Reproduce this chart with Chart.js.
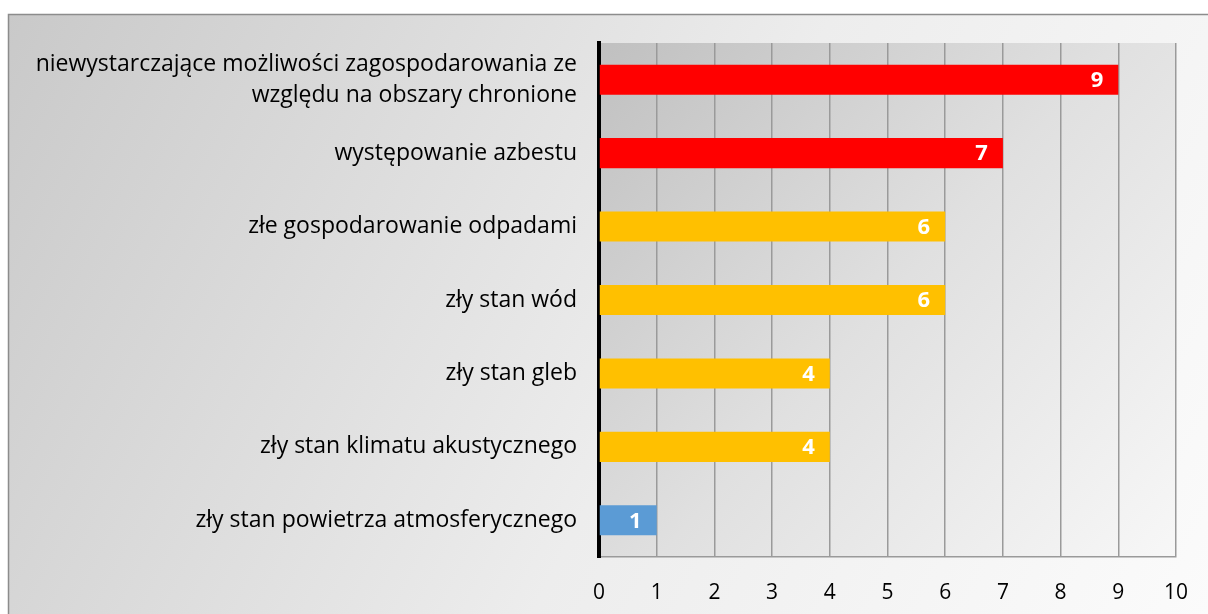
<!DOCTYPE html>
<html>
<head>
<meta charset="utf-8">
<script src="https://cdn.jsdelivr.net/npm/chart.js@4/dist/chart.umd.min.js"></script>
<style>
  html,body{margin:0;padding:0;background:#fff}
  #wrap{position:relative;width:1208px;height:614px}
</style>
</head>
<body>
<div id="wrap"><canvas id="chart" width="1208" height="614"></canvas></div>
<script>
const categories = [
  ['niewystarczające możliwości zagospodarowania ze', 'względu na obszary chronione'],
  'występowanie azbestu',
  'złe gospodarowanie odpadami',
  'zły stan wód',
  'zły stan gleb',
  'zły stan klimatu akustycznego',
  'zły stan powietrza atmosferycznego'
]
const counts = [9, 7, 6, 6, 4, 4, 1]
const barColors = ['#ff0000', '#ff0000', '#ffc000', '#ffc000', '#ffc000', '#ffc000', '#5b9bd5']
const xTicks = [0, 1, 2, 3, 4, 5, 6, 7, 8, 9, 10]

const FONT = '"Open Sans", sans-serif'

// panel + plot-area backgrounds
const backdrop = {
  id: 'backdrop',
  beforeDraw(chart){
    const c = chart.ctx, a = chart.chartArea
    c.save()
    let g = c.createLinearGradient(8, 14, 1208, 614)
    g.addColorStop(0, '#c9c9c9')
    g.addColorStop(0.55, '#ededed')
    g.addColorStop(1, '#fbfbfb')
    c.fillStyle = g
    c.fillRect(8, 14, 1200, 600)
    c.strokeStyle = '#8c8c8c'
    c.lineWidth = 1.5
    c.strokeRect(8.5, 14.5, 1205, 605)
    g = c.createLinearGradient(a.left, a.top, a.right, a.bottom)
    g.addColorStop(0, '#c0c0c0')
    g.addColorStop(0.5, '#e0e0e0')
    g.addColorStop(1, '#f7f7f7')
    c.fillStyle = g
    c.fillRect(a.left, a.top, a.right - a.left, a.bottom - a.top)
    c.restore()
  }
}

// value printed inside the end of each bar
const barValues = {
  id: 'barValues',
  afterDatasetsDraw(chart){
    const c = chart.ctx
    const meta = chart.getDatasetMeta(0)
    c.save()
    c.font = 'bold 22px ' + FONT
    c.fillStyle = '#fff'
    c.textAlign = 'right'
    c.textBaseline = 'middle'
    meta.data.forEach((bar, i) => {
      c.fillText(String(counts[i]), bar.x - 15, bar.y + 1)
    })
    c.restore()
  }
}

new Chart(document.getElementById('chart'), {
  type: 'bar',
  data: {
    labels: categories,
    datasets: [{
      data: counts,
      backgroundColor: barColors,
      borderWidth: 0,
      barPercentage: 0.82,
      categoryPercentage: 0.5
    }]
  },
  options: {
    indexAxis: 'y',
    responsive: false,
    animation: false,
    layout: {padding: {top: 43, right: 32, left: 10, bottom: 0}},
    plugins: {legend: {display: false}, tooltip: {enabled: false}},
    scales: {
      x: {
        min: 0, max: 10,
        afterBuildTicks(scale){ scale.ticks = xTicks.map(v => ({value: v})) },
        afterFit(scale){ scale.height = 57 },
        ticks: {color: '#000', font: {family: FONT, size: 21, lineHeight: 1.5}, padding: 20},
        grid: {color: '#9a9a9a', lineWidth: 1.5, drawTicks: false},
        border: {display: true, color: '#9a9a9a', width: 1.5}
      },
      y: {
        afterFit(scale){ scale.width = 589 },
        ticks: {color: '#000', font: {family: FONT, size: 23, lineHeight: 1.35}, padding: 22},
        grid: {display: false, drawTicks: false},
        border: {display: true, color: '#000', width: 4}
      }
    }
  },
  plugins: [backdrop, barValues]
})
</script>
</body>
</html>
